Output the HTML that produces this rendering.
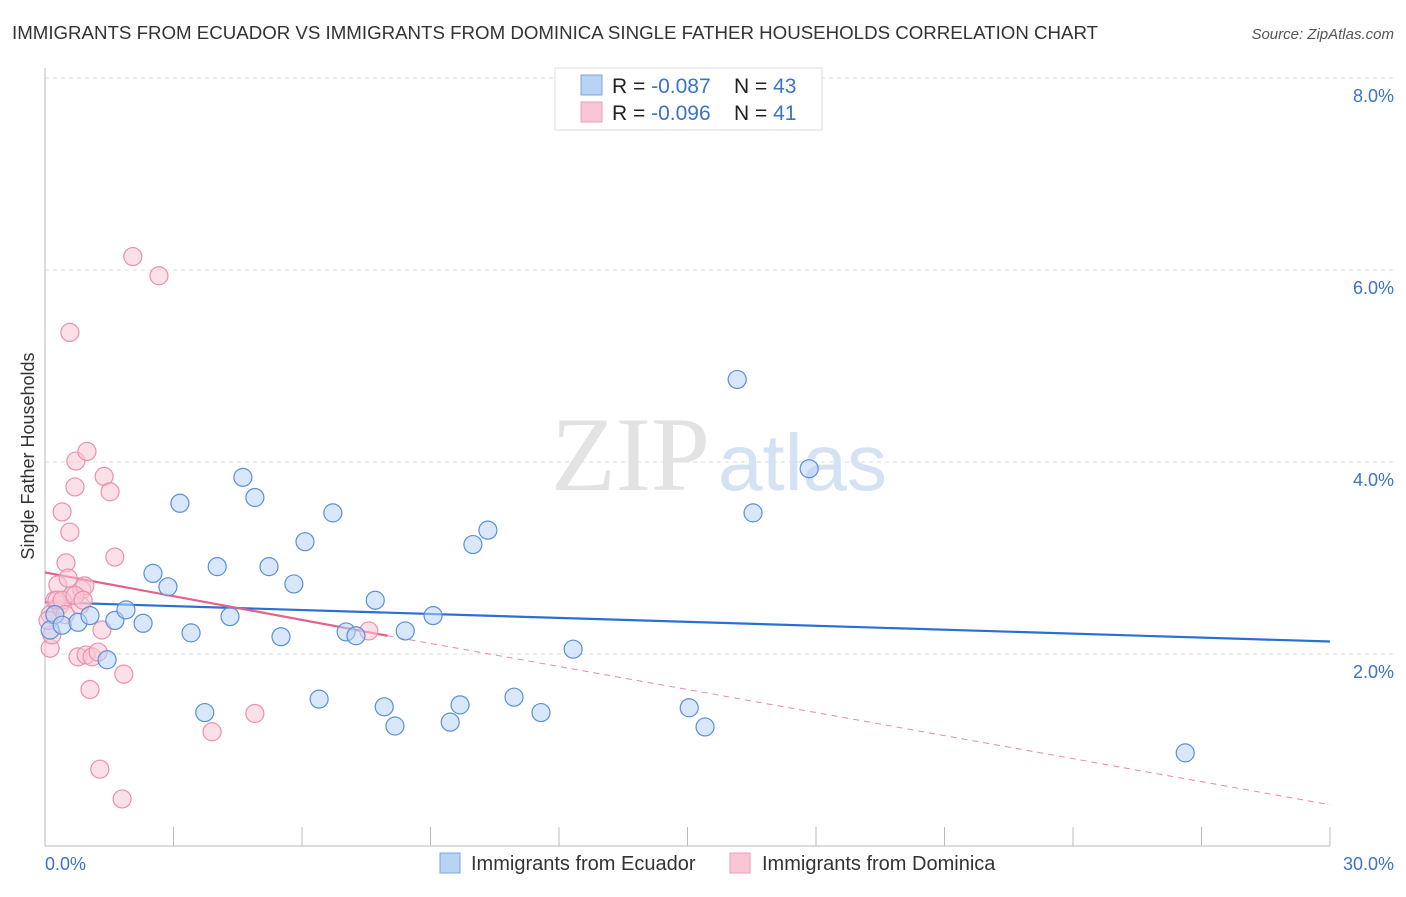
<!DOCTYPE html>
<html><head><meta charset="utf-8"><style>
body{margin:0;background:#fff;font-family:"Liberation Sans",sans-serif}
</style></head><body>
<svg width="1406" height="892" xmlns="http://www.w3.org/2000/svg" font-family="Liberation Sans, sans-serif">
<text x="12" y="39" font-size="18.7" fill="#333">IMMIGRANTS FROM ECUADOR VS IMMIGRANTS FROM DOMINICA SINGLE FATHER HOUSEHOLDS CORRELATION CHART</text>
<text x="1394" y="39" font-size="15" fill="#555" font-style="italic" text-anchor="end">Source: ZipAtlas.com</text>
<g id="grid"></g>
<text x="710" y="490" font-size="106" fill="#e3e3e3" text-anchor="end" font-family="Liberation Serif, serif">ZIP</text>
<text x="718" y="490" font-size="80" fill="#d4e2f4">atlas</text>
<line x1="45" y1="68" x2="45" y2="846" stroke="#bbb"/>
<line x1="45" y1="846" x2="1330" y2="846" stroke="#bbb"/>
<g id="ticks"></g>
<g id="trend"></g>
<g id="pts"></g>
<text x="45" y="870" font-size="18" fill="#3b73c9">0.0%</text>
<text x="1394" y="870" font-size="18" fill="#3b73c9" text-anchor="end">30.0%</text>
<text x="34" y="456" font-size="18" fill="#333" text-anchor="middle" transform="rotate(-90 34 456)">Single Father Households</text>
<g>
<rect x="555" y="68" width="267" height="62" fill="#fff" stroke="#ddd"/>
<rect x="581" y="75" width="21" height="20" fill="#b9d3f5" stroke="#7aa6e0"/>
<rect x="581" y="102" width="21" height="20" fill="#f9c6d5" stroke="#ef9db6"/>
<text x="612" y="93" font-size="21" fill="#222">R = <tspan fill="#3b73c9">-0.087</tspan><tspan x="734">N = </tspan><tspan fill="#3b73c9">43</tspan></text>
<text x="612" y="120" font-size="21" fill="#222">R = <tspan fill="#3b73c9">-0.096</tspan><tspan x="734">N = </tspan><tspan fill="#3b73c9"> 41</tspan></text>
</g>
<g>
<rect x="440" y="853" width="20" height="20" fill="#b9d3f5" stroke="#7aa6e0"/>
<text x="471" y="870" font-size="20" fill="#333">Immigrants from Ecuador</text>
<rect x="730" y="853" width="20" height="20" fill="#f9c6d5" stroke="#ef9db6"/>
<text x="762" y="870" font-size="20" fill="#333">Immigrants from Dominica</text>
</g>
</svg>
<script>
const yTicks=[2,4,6,8];
const xTickVals=[3,6,9,12,15,18,21,24,27,30];
const ecuadorX=[0.12,0.23,0.4,0.77,1.05,1.45,1.63,1.89,2.29,2.52,2.87,3.15,3.41,3.73,4.02,4.32,4.62,4.9,5.23,5.51,5.81,6.07,6.4,6.72,7.03,7.26,7.71,7.92,8.17,8.41,9.06,9.46,9.69,9.99,10.34,10.95,11.58,12.33,15.04,15.41,16.16,16.53,17.84,26.62];
const ecuadorY=[2.25,2.41,2.30,2.33,2.40,1.94,2.35,2.46,2.32,2.84,2.70,3.57,2.22,1.39,2.91,2.39,3.84,3.63,2.91,2.18,2.73,3.17,1.53,3.47,2.23,2.19,2.56,1.45,1.25,2.24,2.40,1.29,1.47,3.14,3.29,1.55,1.39,2.05,1.44,1.24,4.86,3.47,3.93,0.97];
const dominicaX=[0.12,0.12,0.16,0.23,0.30,0.35,0.40,0.49,0.54,0.58,0.58,0.63,0.70,0.72,0.77,0.82,0.86,0.93,0.96,0.98,1.05,1.10,1.24,1.28,1.33,1.38,1.52,1.63,1.80,1.84,2.05,2.66,3.90,4.90,7.56,0.07,0.28,0.40,0.47,0.70,0.89];
const dominicaY=[2.41,2.06,2.20,2.56,2.72,2.51,3.48,2.95,2.79,3.27,5.35,2.61,3.74,4.01,1.97,2.51,2.67,2.71,1.99,4.11,1.63,1.97,2.02,0.80,2.25,3.85,3.69,3.01,0.49,1.79,6.14,5.94,1.19,1.38,2.24,2.35,2.56,2.56,2.41,2.61,2.56];
const blueTrend=[[0,2.54],[30,2.13]];
const pinkSolid=[[0,2.85],[8,2.19]];
const pinkDash=[[8,2.19],[30,0.43]];
const NS='http://www.w3.org/2000/svg';
const X=v=>45+v/30*1285, Y=v=>846-v*96;
function mk(t,a,p){const e=document.createElementNS(NS,t);for(const k in a)e.setAttribute(k,a[k]);p.appendChild(e);return e;}
const grid=document.getElementById('grid');
yTicks.forEach(t=>{
 const l=mk('line',{x1:45,x2:1394,y1:Y(t),y2:Y(t),stroke:'#ddd','stroke-dasharray':'4,4'},grid);
 
 
 const tx=mk('text',{x:1394,y:Y(t)+24,'font-size':18,fill:'#3b73c9','text-anchor':'end'},grid);
 tx.textContent=t.toFixed(1)+'%';
 
 
});
const ticks=document.getElementById('ticks');
xTickVals.forEach(t=>{
 const l=mk('line',{x1:X(t),x2:X(t),y1:827,y2:846,stroke:'#bbb'},ticks);
 
 
});
const tr=document.getElementById('trend');
function seg(d,col,w,dash,name){const l=mk('line',{x1:X(d[0][0]),y1:Y(d[0][1]),x2:X(d[1][0]),y2:Y(d[1][1]),stroke:col,'stroke-width':w},tr);if(dash)l.setAttribute('stroke-dasharray',dash);
 
 }
const pts=document.getElementById('pts');
function draw(xs,ys,f,s,name){xs.forEach((x,i)=>{const c=mk('circle',{cx:X(x),cy:Y(ys[i]),r:9,fill:f,'fill-opacity':0.55,stroke:s,'stroke-width':1.2},pts);
 
 });}
draw(dominicaX,dominicaY,'#f9c6d5','#ec8fad','dominica-point');
draw(ecuadorX,ecuadorY,'#b9d3f5','#5b8fd6','ecuador-point');
seg(blueTrend,'#2a6fd6',2.2,null,'ecuador-trend-line');
seg(pinkSolid,'#e5608c',2.2,null,'dominica-trend-line');
seg(pinkDash,'#e88aa8',1,'6,5','dominica-trend-extension');
</script>
</body></html>
